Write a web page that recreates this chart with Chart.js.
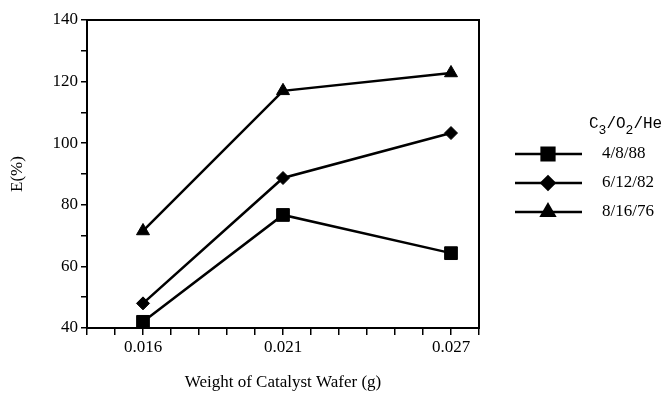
<!DOCTYPE html>
<html>
<head>
<meta charset="utf-8">
<script src="https://cdn.jsdelivr.net/npm/chart.js@4/dist/chart.umd.min.js"></script>
<style>
  html, body { margin: 0; padding: 0; background: #fff; }
  #wrap { width: 667px; height: 393px; }
</style>
</head>
<body>
<div id="wrap"><canvas id="chart"></canvas></div>
<script>
// data
const weights = [0.016, 0.021, 0.027];
const feed488 = [42, 76.7, 64.3];
const feed61282 = [48, 88.7, 103.3];
const feed81676 = [71.5, 117, 122.8];
const seriesNames = ["4/8/88", "6/12/82", "8/16/76"];
const xLabels = [0.016, 0.021, 0.027];
const yLabels = [40, 60, 80, 100, 120, 140];

const serif = "'Liberation Serif', 'Times New Roman', serif";

function pts(vals) {
  return weights.map((w, i) => ({ x: w, y: vals[i] }));
}

function mkSet(label, vals, style, radius) {
  return {
    label: label,
    data: pts(vals),
    borderColor: "#000",
    backgroundColor: "#000",
    borderWidth: 2.5,
    pointStyle: style,
    pointRadius: radius,
    pointHoverRadius: radius,
    pointBorderWidth: 1,
    pointBorderColor: "#000",
    pointBackgroundColor: "#000",
  };
}

// frame box + legend on the right
const decor = {
  id: "decor",
  afterDraw(chart) {
    const ctx = chart.ctx;
    const a = chart.chartArea;
    ctx.save();
    ctx.strokeStyle = "#000";
    ctx.lineWidth = 2;
    ctx.strokeRect(a.left, a.top, a.right - a.left, a.bottom - a.top);

    // legend title C3/O2/He
    let x = a.right + 110;
    const ty = 124;
    ctx.fillStyle = "#000";
    ctx.textBaseline = "middle";
    ctx.textAlign = "left";
    const parts = [["C", 0], ["3", 1], ["/O", 0], ["2", 1], ["/He", 0]];
    parts.forEach(([t, sub]) => {
      ctx.font = (sub ? "13px" : "16px") + " 'Liberation Mono', monospace";
      ctx.fillText(t, x, sub ? ty + 7 : ty);
      x += ctx.measureText(t).width;
    });

    // legend rows
    const x0 = a.right + 36, x1 = a.right + 103, mx = a.right + 69;
    chart.data.datasets.forEach((ds, i) => {
      const y = 154 + i * 29;
      ctx.strokeStyle = "#000";
      ctx.lineWidth = 2.5;
      ctx.beginPath();
      ctx.moveTo(x0, y);
      ctx.lineTo(x1, y);
      ctx.stroke();
      Chart.helpers.drawPoint(ctx, {
        pointStyle: ds.pointStyle,
        radius: ds.pointRadius,
        rotation: 0,
        borderWidth: 1,
      }, mx, y);
      ctx.fill();
      ctx.font = "17px " + serif;
      ctx.fillText(ds.label, a.right + 123, y);
    });
    ctx.restore();
  },
};

function near(v, list, tol) {
  return list.find((l) => Math.abs(l - v) < tol);
}

new Chart(document.getElementById("chart"), {
  type: "line",
  data: {
    datasets: [
      mkSet(seriesNames[0], feed488, "rect", 9),
      mkSet(seriesNames[1], feed61282, "rectRot", 6.5),
      mkSet(seriesNames[2], feed81676, "triangle", 7.5),
    ],
  },
  options: {
    responsive: true,
    maintainAspectRatio: false,
    animation: false,
    layout: { padding: { top: 20, right: 188, bottom: 0, left: 7 } },
    plugins: {
      legend: { display: false },
      tooltip: { enabled: false },
    },
    scales: {
      x: {
        type: "linear",
        min: 0.014,
        max: 0.028,
        afterFit: (s) => { s.height = 65; },
        border: { display: true, color: "#000", width: 2 },
        grid: { drawOnChartArea: false, drawTicks: true, tickLength: 7, color: "#000", lineWidth: 1.5 },
        ticks: {
          stepSize: 0.001,
          autoSkip: false,
          maxRotation: 0,
          padding: 2,
          color: "#000",
          font: { family: serif, size: 17 },
          callback: (v) => {
            const l = near(v, xLabels, 0.0001);
            return l !== undefined ? l.toFixed(3) : "";
          },
        },
        title: {
          display: true,
          text: "Weight of Catalyst Wafer (g)",
          color: "#000",
          font: { family: serif, size: 17 },
          padding: { top: 0, bottom: 0 },
        },
      },
      y: {
        min: 40,
        max: 140,
        afterFit: (s) => { s.width = 80; },
        border: { display: true, color: "#000", width: 2 },
        grid: { drawOnChartArea: false, drawTicks: true, tickLength: 6, color: "#000", lineWidth: 1.5 },
        ticks: {
          stepSize: 10,
          autoSkip: false,
          padding: 3,
          color: "#000",
          font: { family: serif, size: 17 },
          callback: (v) => {
            const l = near(v, yLabels, 0.5);
            return l !== undefined ? String(l) : "";
          },
        },
        title: {
          display: true,
          text: "E(%)",
          color: "#000",
          font: { family: serif, size: 17 },
          padding: { top: 0, bottom: 0 },
        },
      },
    },
  },
  plugins: [decor],
});
</script>
</body>
</html>
